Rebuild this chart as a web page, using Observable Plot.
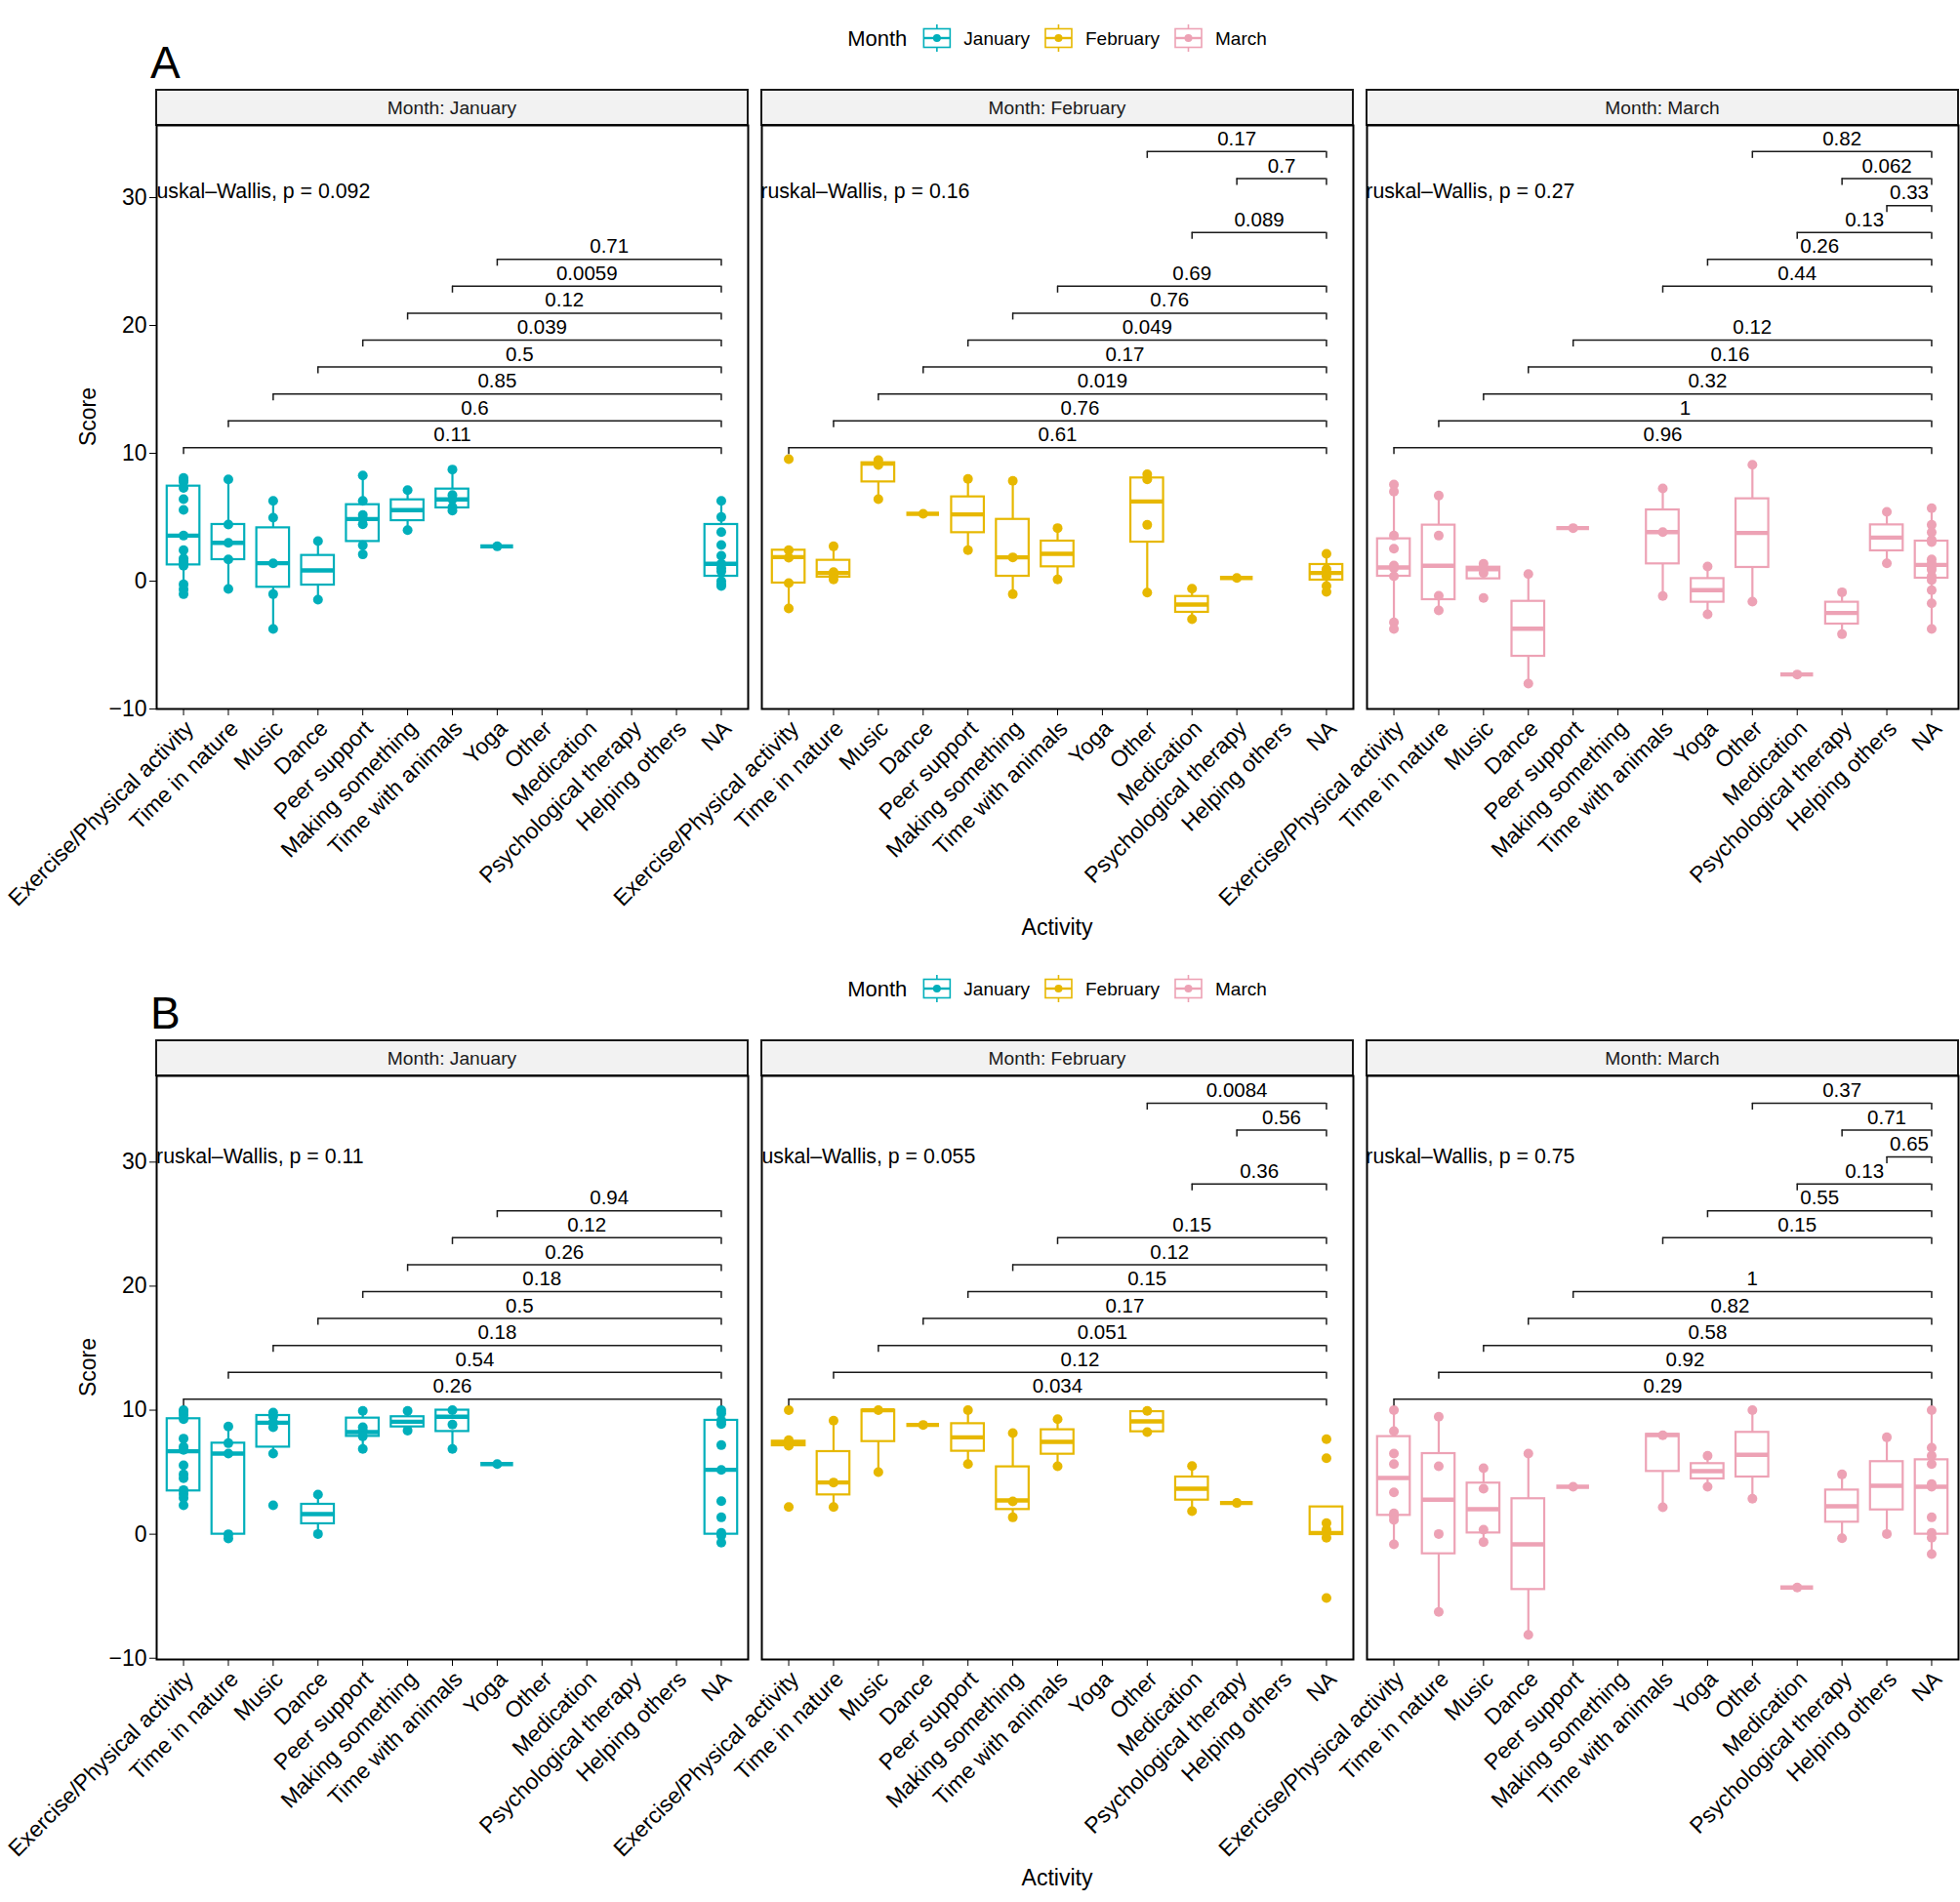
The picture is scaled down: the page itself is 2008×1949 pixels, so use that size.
<!DOCTYPE html>
<html><head><meta charset="utf-8">
<script src="https://cdn.jsdelivr.net/npm/d3@7"></script>
<script src="https://cdn.jsdelivr.net/npm/@observablehq/plot@0.6"></script>
<style>
body{margin:0;background:#fff;}
#root{position:relative;width:2008px;height:1949px;overflow:hidden;background:#fff;font-family:"Liberation Sans",Arial,Helvetica,sans-serif;}
</style></head><body><div id="root"></div>
<script>
// ---------------- DATA ----------------
const activities = ["Exercise/Physical activity","Time in nature","Music","Dance","Peer support","Making something","Time with animals","Yoga","Other","Medication","Psychological therapy","Helping others","NA"];
const months = ["January","February","March"];
const monthColors = ["#00AFBB","#E7B800","#EDA2B5"];
const yTicks = [-10,0,10,20,30];
const legendTitle = "Month";
const xTitle = "Activity";
const yTitle = "Score";

// Box summaries: [activity, lower whisker, Q1, median, Q3, upper whisker]
const boxA_Jan = [
 ["Exercise/Physical activity",-1.02,1.27,3.56,7.43,8.07],
 ["Time in nature",-0.61,1.68,3.00,4.43,7.96],
 ["Music",-3.74,-0.48,1.40,4.17,6.28],
 ["Dance",-1.45,-0.31,0.84,2.01,3.13],
 ["Peer support",2.09,3.10,4.86,5.98,8.27],
 ["Making something",3.99,4.73,5.55,6.36,7.12],
 ["Time with animals",5.52,5.73,6.39,7.20,8.73],
 ["Yoga",2.72,2.72,2.72,2.72,2.72],
 ["NA",-0.38,0.38,1.35,4.43,6.28]
];
const boxA_Feb = [
 ["Exercise/Physical activity",-2.14,-0.15,1.88,2.42,2.42],
 ["Time in nature",0.13,0.31,0.64,1.63,2.72],
 ["Music",6.41,7.76,9.19,9.26,9.47],
 ["Dance",5.27,5.27,5.27,5.27,5.27],
 ["Peer support",2.42,3.79,5.22,6.59,7.99],
 ["Making something",-1.02,0.38,1.86,4.83,7.84],
 ["Time with animals",0.13,1.12,2.14,3.13,4.15],
 ["Other",-0.89,3.05,6.23,8.07,8.35],
 ["Medication",-2.98,-2.44,-1.83,-1.20,-0.59],
 ["Psychological therapy",0.25,0.25,0.25,0.25,0.25],
 ["NA",-0.84,0.08,0.64,1.30,2.14]
];
const boxA_Mar = [
 ["Exercise/Physical activity",-3.74,0.38,1.07,3.31,7.56],
 ["Time in nature",-2.29,-1.45,1.20,4.38,6.69],
 ["Music",0.18,0.18,0.94,1.09,1.35],
 ["Dance",-8.02,-5.88,-3.72,-1.58,0.56],
 ["Peer support",4.15,4.15,4.15,4.15,4.15],
 ["Time with animals",-1.17,1.35,3.84,5.57,7.25],
 ["Yoga",-2.60,-1.65,-0.71,0.20,1.15],
 ["Other",-1.60,1.07,3.77,6.44,9.11],
 ["Medication",-7.30,-7.30,-7.30,-7.30,-7.30],
 ["Psychological therapy",-4.15,-3.36,-2.49,-1.65,-0.87],
 ["Helping others",1.40,2.37,3.41,4.40,5.42],
 ["NA",-3.74,0.23,1.27,3.13,5.70]
];
const boxB_Jan = [
 ["Exercise/Physical activity",2.33,3.49,6.69,9.31,10.0],
 ["Time in nature",-0.34,0.0,6.50,7.34,8.68],
 ["Music",6.50,7.02,8.99,9.57,9.81],
 ["Dance",0.02,0.84,1.62,2.41,3.20],
 ["Peer support",6.87,7.89,8.23,9.36,9.94],
 ["Making something",8.36,8.65,9.07,9.47,9.94],
 ["Time with animals",6.87,8.28,9.47,10.0,10.0],
 ["Yoga",5.66,5.66,5.66,5.66,5.66],
 ["NA",-0.68,0.0,5.19,9.18,10.0]
];
const boxB_Feb = [
 ["Exercise/Physical activity",7.13,7.13,7.31,7.50,7.50],
 ["Time in nature",2.20,3.17,4.17,6.66,9.15],
 ["Music",5.01,7.47,9.99,10.0,10.0],
 ["Dance",8.81,8.81,8.81,8.81,8.81],
 ["Peer support",5.66,6.69,7.81,8.91,10.0],
 ["Making something",1.36,1.99,2.72,5.43,8.15],
 ["Time with animals",5.48,6.45,7.45,8.42,9.28],
 ["Other",8.23,8.26,9.10,9.88,9.94],
 ["Medication",1.86,2.75,3.67,4.61,5.50],
 ["Psychological therapy",2.52,2.52,2.52,2.52,2.52],
 ["NA",-0.03,-0.03,0.10,2.20,2.20]
];
const boxB_Mar = [
 ["Exercise/Physical activity",-0.82,1.52,4.53,7.87,10.0],
 ["Time in nature",-6.27,-1.58,2.78,6.50,9.47],
 ["Music",-0.63,0.10,2.02,4.12,5.32],
 ["Dance",-8.11,-4.46,-0.82,2.86,6.50],
 ["Peer support",3.83,3.83,3.83,3.83,3.83],
 ["Time with animals",2.17,5.06,8.00,8.05,8.05],
 ["Yoga",3.83,4.46,5.09,5.69,6.32],
 ["Other",2.86,4.61,6.40,8.21,10.0],
 ["Medication",-4.30,-4.30,-4.30,-4.30,-4.30],
 ["Psychological therapy",-0.32,0.97,2.25,3.56,4.82],
 ["Helping others",0.02,1.96,3.90,5.85,7.81],
 ["NA",-1.60,0.0,3.83,6.00,10.0]
];

// Individual scores: [activity, values]
const ptsA_Jan = [
 ["Exercise/Physical activity",[8.07,7.89,7.76,7.30,6.41,5.57,3.56,2.42,1.78,1.58,1.40,1.20,-0.25,-0.64,-1.02]],
 ["Time in nature",[7.96,4.43,3.00,1.70,-0.61]],
 ["Music",[6.28,4.96,1.40,-1.02,-3.74]],
 ["Dance",[3.13,-1.45]],
 ["Peer support",[8.27,6.28,5.17,4.86,4.45,2.80,2.09]],
 ["Making something",[7.12,3.99]],
 ["Time with animals",[8.73,6.74,6.39,5.78,5.52]],
 ["Yoga",[2.72]],
 ["NA",[6.28,5.01,3.84,2.82,1.98,1.35,1.02,0.76,0.0,-0.25,-0.38]]
];
const ptsA_Feb = [
 ["Exercise/Physical activity",[9.54,2.42,1.83,-0.15,-2.14]],
 ["Time in nature",[2.72,0.71,0.46,0.13]],
 ["Music",[9.47,9.08,6.41]],
 ["Dance",[5.27]],
 ["Peer support",[7.99,2.42]],
 ["Making something",[7.84,1.86,-1.02]],
 ["Time with animals",[4.15,0.13]],
 ["Other",[8.35,7.96,4.40,-0.89]],
 ["Medication",[-0.59,-2.98]],
 ["Psychological therapy",[0.25]],
 ["NA",[2.14,0.94,0.64,0.38,-0.38,-0.84]]
];
const ptsA_Mar = [
 ["Exercise/Physical activity",[7.56,7.00,3.56,2.54,1.22,1.02,0.38,-3.23,-3.74]],
 ["Time in nature",[6.69,3.56,-1.15,-2.29]],
 ["Music",[1.35,1.02,0.64,-1.32]],
 ["Dance",[0.56,-8.02]],
 ["Peer support",[4.15]],
 ["Time with animals",[7.25,3.84,-1.17]],
 ["Yoga",[1.15,-2.60]],
 ["Other",[9.11,-1.60]],
 ["Medication",[-7.30]],
 ["Psychological therapy",[-0.87,-4.15]],
 ["Helping others",[5.42,1.40]],
 ["NA",[5.70,4.40,3.82,3.23,3.05,1.70,1.40,1.15,0.89,0.38,0.08,-0.71,-1.73,-3.74]]
];
const ptsB_Jan = [
 ["Exercise/Physical activity",[10.0,9.86,9.60,9.28,7.71,7.05,6.79,5.56,4.82,4.51,3.56,3.25,2.93,2.33]],
 ["Time in nature",[8.68,7.34,6.50,0.0,-0.34]],
 ["Music",[9.81,9.49,9.02,8.63,6.50,2.33]],
 ["Dance",[3.20,0.02]],
 ["Peer support",[9.94,8.63,8.36,7.89,6.87]],
 ["Making something",[9.94,8.36]],
 ["Time with animals",[10.0,8.84,6.87]],
 ["Yoga",[5.66]],
 ["NA",[10.0,9.75,9.15,8.89,7.18,5.19,2.67,1.36,0.10,-0.11,-0.68]]
];
const ptsB_Feb = [
 ["Exercise/Physical activity",[10.0,7.58,7.13,2.20]],
 ["Time in nature",[9.15,4.17,2.20]],
 ["Music",[10.0,5.01]],
 ["Dance",[8.81]],
 ["Peer support",[10.0,5.66]],
 ["Making something",[8.15,2.65,1.36]],
 ["Time with animals",[9.28,5.48]],
 ["Other",[9.94,8.23]],
 ["Medication",[5.50,1.86]],
 ["Psychological therapy",[2.52]],
 ["NA",[7.66,6.13,0.89,0.36,0.10,-0.29,-5.14]]
];
const ptsB_Mar = [
 ["Exercise/Physical activity",[10.0,8.31,6.50,5.66,3.38,1.68,1.47,1.15,-0.82]],
 ["Time in nature",[9.47,5.48,0.02,-6.27]],
 ["Music",[5.32,3.67,0.36,-0.63]],
 ["Dance",[6.50,-8.11]],
 ["Peer support",[3.83]],
 ["Time with animals",[7.97,2.17]],
 ["Yoga",[6.32,3.83]],
 ["Other",[10.0,2.86]],
 ["Medication",[-4.30]],
 ["Psychological therapy",[4.82,-0.32]],
 ["Helping others",[7.81,0.02]],
 ["NA",[10.0,6.97,6.32,5.66,4.04,3.83,1.36,0.10,-0.29,-1.60]]
];

// Pairwise comparisons against "NA": [group, bracket y, p-value label]
const brA_Jan = [
 ["Exercise/Physical activity",10.43,"0.11"],["Time in nature",12.54,"0.6"],["Music",14.64,"0.85"],["Dance",16.75,"0.5"],
 ["Peer support",18.85,"0.039"],["Making something",20.96,"0.12"],["Time with animals",23.07,"0.0059"],["Yoga",25.17,"0.71"]
];
const brA_Feb = [
 ["Exercise/Physical activity",10.43,"0.61"],["Time in nature",12.54,"0.76"],["Music",14.64,"0.019"],["Dance",16.75,"0.17"],
 ["Peer support",18.85,"0.049"],["Making something",20.96,"0.76"],["Time with animals",23.07,"0.69"],
 ["Medication",27.28,"0.089"],["Psychological therapy",31.49,"0.7"],["Other",33.60,"0.17"]
];
const brA_Mar = [
 ["Exercise/Physical activity",10.43,"0.96"],["Time in nature",12.54,"1"],["Music",14.64,"0.32"],["Dance",16.75,"0.16"],
 ["Peer support",18.85,"0.12"],["Time with animals",23.07,"0.44"],["Yoga",25.17,"0.26"],["Medication",27.28,"0.13"],
 ["Helping others",29.38,"0.33"],["Psychological therapy",31.49,"0.062"],["Other",33.60,"0.82"]
];
const brB_Jan = [
 ["Exercise/Physical activity",10.88,"0.26"],["Time in nature",13.05,"0.54"],["Music",15.22,"0.18"],["Dance",17.39,"0.5"],
 ["Peer support",19.56,"0.18"],["Making something",21.73,"0.26"],["Time with animals",23.90,"0.12"],["Yoga",26.07,"0.94"]
];
const brB_Feb = [
 ["Exercise/Physical activity",10.88,"0.034"],["Time in nature",13.05,"0.12"],["Music",15.22,"0.051"],["Dance",17.39,"0.17"],
 ["Peer support",19.56,"0.15"],["Making something",21.73,"0.12"],["Time with animals",23.90,"0.15"],
 ["Medication",28.24,"0.36"],["Psychological therapy",32.58,"0.56"],["Other",34.75,"0.0084"]
];
const brB_Mar = [
 ["Exercise/Physical activity",10.88,"0.29"],["Time in nature",13.05,"0.92"],["Music",15.22,"0.58"],["Dance",17.39,"0.82"],
 ["Peer support",19.56,"1"],["Time with animals",23.90,"0.15"],["Yoga",26.07,"0.55"],["Medication",28.24,"0.13"],
 ["Helping others",30.41,"0.65"],["Psychological therapy",32.58,"0.71"],["Other",34.75,"0.37"]
];

// Kruskal–Wallis global p-values per month
const kruskalA = ["0.092","0.16","0.27"];
const kruskalB = ["0.11","0.055","0.75"];

// ---------------- LAYOUT ----------------
const FONT = '"Liberation Sans", Arial, Helvetica, sans-serif';
const panelLefts = [160, 780, 1400];
const panelW = 606, panelH = 598;
const mL = 170, mR = 12, mT = 12, mB = 270;

const panels = [
 {letter:"A", top:128, domain:[-10.0,35.65], kwY:30.45, kw:kruskalA, boxes:[boxA_Jan,boxA_Feb,boxA_Mar], pts:[ptsA_Jan,ptsA_Feb,ptsA_Mar], br:[brA_Jan,brA_Feb,brA_Mar]},
 {letter:"B", top:1102, domain:[-10.1,36.95], kwY:30.45, kw:kruskalB, boxes:[boxB_Jan,boxB_Feb,boxB_Mar], pts:[ptsB_Jan,ptsB_Feb,ptsB_Mar], br:[brB_Jan,brB_Feb,brB_Mar]}
];

const root = document.getElementById("root");
const overlay = d3.select(root).append("svg")
  .attr("width",2008).attr("height",1949)
  .style("position","absolute").style("left","0px").style("top","0px")
  .attr("font-family", FONT);

const idx = a => activities.indexOf(a);
const hw = 0.365;

function facet(p, m) {
  const color = monthColors[m];
  const boxRows = p.boxes[m].map(([a,lo,q1,med,q3,hi]) => ({i:idx(a),lo,q1,med,q3,hi}));
  const ptRows = p.pts[m].flatMap(([a,vs]) => vs.map(v => ({i:idx(a), v})));
  const brRows = p.br[m].map(([a,y,lab]) => ({i1:idx(a), i2:idx("NA"), y, lab}));
  const pxPerUnit = panelH / (p.domain[1]-p.domain[0]);
  const tip = 7 / pxPerUnit;
  const marks = [
      Plot.axisX({ticks: d3.range(activities.length), tickFormat: i => activities[i], tickRotate:-45, tickSize:7, tickPadding:3, label:null, lineAnchor:"top", fill:"#000", stroke:"#000"}),
      Plot.ruleX(boxRows, {x:"i", y1:"q3", y2:"hi", stroke:color, strokeWidth:2.2}),
      Plot.ruleX(boxRows, {x:"i", y1:"lo", y2:"q1", stroke:color, strokeWidth:2.2}),
      Plot.rect(boxRows, {x1:d=>d.i-hw, x2:d=>d.i+hw, y1:"q1", y2:"q3", fill:"white", stroke:color, strokeWidth:2.2}),
      Plot.ruleY(boxRows, {y:"med", x1:d=>d.i-hw, x2:d=>d.i+hw, stroke:color, strokeWidth:4.4}),
      Plot.dot(ptRows, {x:"i", y:"v", r:5, fill:color, stroke:null}),
      Plot.ruleY(brRows, {y:"y", x1:"i1", x2:"i2", stroke:"#1a1a1a", strokeWidth:1.5}),
      Plot.ruleX(brRows, {x:"i1", y1:"y", y2:d=>d.y-tip, stroke:"#1a1a1a", strokeWidth:1.5}),
      Plot.ruleX(brRows, {x:"i2", y1:"y", y2:d=>d.y-tip, stroke:"#1a1a1a", strokeWidth:1.5}),
      Plot.text(brRows, {x:d=>(d.i1+d.i2)/2, y:"y", text:"lab", dy:-13, fontSize:20.5, fill:"#000"}),
      Plot.text([p.kw[m]], {x:1.55, y:p.kwY, text:d=>`Kruskal–Wallis, p = ${d}`, fontSize:21.3, fill:"#000", textAnchor:"middle", clip:true}),
      Plot.frame({stroke:"#000", strokeWidth:2})
  ];
  if (m === 0) marks.unshift(Plot.axisY({ticks:yTicks, tickSize:7, tickPadding:3, label:null, fill:"#000", stroke:"#000"}));
  const plot = Plot.plot({
    width: panelW + mL + mR, height: panelH + mT + mB,
    marginLeft: mL, marginRight: mR, marginTop: mT, marginBottom: mB,
    style: {background:"transparent", overflow:"visible", fontFamily: FONT, fontSize:"23px", color:"#000"},
    x: {domain:[-0.6, 12.6]},
    y: m === 0 ? {domain:p.domain} : {domain:p.domain, axis:null},
    marks
  });
  plot.style.position = "absolute";
  plot.style.left = (panelLefts[m] - mL) + "px";
  plot.style.top = (p.top - mT) + "px";
  plot.style.maxWidth = "none";
  root.appendChild(plot);
}

function legendKey(g, x, cy, color) {
  g.append("line").attr("x1",x+13.5).attr("x2",x+13.5).attr("y1",cy-14).attr("y2",cy+14).attr("stroke",color).attr("stroke-width",1.6);
  g.append("rect").attr("x",x).attr("y",cy-9.5).attr("width",27).attr("height",19).attr("fill","white").attr("stroke",color).attr("stroke-width",1.6);
  g.append("line").attr("x1",x).attr("x2",x+27).attr("y1",cy).attr("y2",cy).attr("stroke",color).attr("stroke-width",2.4);
  g.append("circle").attr("cx",x+13.5).attr("cy",cy).attr("r",4).attr("fill",color);
}

panels.forEach((p, pi) => {
  const off = p.top - 128;
  overlay.append("text").attr("x",154).attr("y",80+off).attr("font-size",46).text(p.letter);
  const g = overlay.append("g");
  const cy = 39 + off;
  const title = g.append("text").attr("x",0).attr("y",cy+8).attr("font-size",22).text(legendTitle);
  let cur = title.node().getComputedTextLength() + 17;
  months.forEach((mo, mi) => {
    legendKey(g, cur, cy, monthColors[mi]);
    cur += 27 + 14;
    const t = g.append("text").attr("x",cur).attr("y",cy+7).attr("font-size",19).text(mo);
    cur += t.node().getComputedTextLength() + 16;
  });
  const total = cur - 16;
  g.attr("transform", `translate(${1083 - total/2},0)`);
  months.forEach((mo, mi) => {
    overlay.append("rect").attr("x",panelLefts[mi]).attr("y",92+off).attr("width",panelW).attr("height",36)
      .attr("fill","#f2f2f2").attr("stroke","#1a1a1a").attr("stroke-width",2);
    overlay.append("text").attr("x",panelLefts[mi]+panelW/2).attr("y",110+off+7).attr("text-anchor","middle")
      .attr("font-size",19.2).attr("fill","#1a1a1a").text(`Month: ${mo}`);
  });
  overlay.append("text").attr("transform",`translate(98,${427+off}) rotate(-90)`).attr("text-anchor","middle").attr("font-size",23).text(yTitle);
  overlay.append("text").attr("x",1083).attr("y",958+off).attr("text-anchor","middle").attr("font-size",23).text(xTitle);
  months.forEach((mo, mi) => facet(p, mi));
});
</script></body></html>
